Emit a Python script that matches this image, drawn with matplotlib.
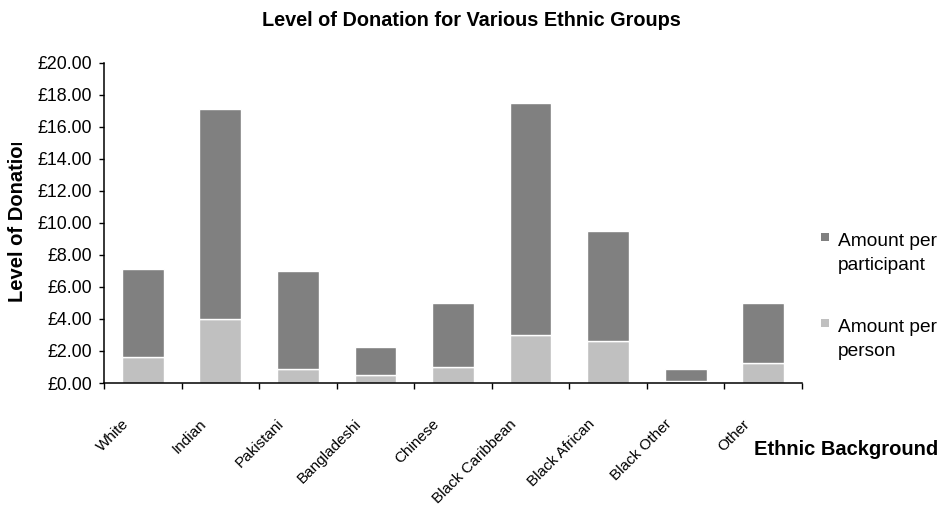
import matplotlib
matplotlib.use("Agg")
import matplotlib.pyplot as plt
from matplotlib.patches import Rectangle
from matplotlib.transforms import Bbox, TransformedBbox, ScaledTranslation
from matplotlib.ticker import FuncFormatter, MultipleLocator
import numpy as np

plt.rcParams["font.family"] = ["Liberation Sans", "DejaVu Sans"]

# Data
groups = ["White", "Indian", "Pakistani", "Bangladeshi", "Chinese",
          "Black Caribbean", "Black African", "Black Other", "Other"]
amount_per_person = [1.60, 4.00, 0.90, 0.50, 1.02, 3.02, 2.65, 0.15, 1.27]
amount_per_participant = [5.50, 13.10, 6.08, 1.73, 3.96, 14.46, 6.83, 0.70, 3.71]

title = "Level of Donation for Various Ethnic Groups"
x_title = "Ethnic Background"
y_title = "Level of Donation"
series_names = [["Amount per", "participant"], ["Amount per", "person"]]

dark = "#808080"
light = "#c0c0c0"

W, H, DPI = 943, 512, 100
fig = plt.figure(figsize=(W / DPI, H / DPI), dpi=DPI)
fig.patch.set_facecolor("white")


def px(x, y):
    """Pixel position (from top-left) to figure fraction."""
    return x / W, 1 - y / H


ax_l, ax_r, ax_t, ax_b = 104, 802, 62.7, 383
ax = fig.add_axes([ax_l / W, 1 - ax_b / H, (ax_r - ax_l) / W, (ax_b - ax_t) / H])

x = np.arange(len(groups))
bw = 0.54
ax.bar(x, amount_per_person, width=bw, color=light, edgecolor="white",
       linewidth=1.0, zorder=2)
ax.bar(x, amount_per_participant, width=bw, bottom=amount_per_person,
       color=dark, edgecolor="white", linewidth=1.0, zorder=2)

ax.set_xlim(-0.5, len(groups) - 0.5)
ax.set_ylim(0, 20)
ax.yaxis.set_major_locator(MultipleLocator(2))
ax.yaxis.set_major_formatter(FuncFormatter(lambda v, p: f"£{v:.2f}"))

for s in ["top", "right"]:
    ax.spines[s].set_visible(False)
for s in ["left", "bottom"]:
    ax.spines[s].set_linewidth(1.1)
    ax.spines[s].set_color("black")

ax.tick_params(axis="y", direction="out", length=3.6, width=1.0,
               pad=5.0, labelsize=12.8, colors="black")

# category labels at bar centres, tick marks at category boundaries
ax.set_xticks(x)
ax.set_xticks(np.arange(-0.5, len(groups), 1.0), minor=True)
ax.tick_params(axis="x", which="minor", direction="out", length=4.3, width=1.0)
ax.tick_params(axis="x", which="major", length=0, pad=28.0, labelsize=11)
ax.set_xticklabels(groups)
shift = ScaledTranslation(-16 / DPI, 0, fig.dpi_scale_trans)
for lab in ax.get_xticklabels():
    lab.set_rotation(45)
    lab.set_rotation_mode("anchor")
    lab.set_ha("right")
    lab.set_va("center")
    lab.set_transform(lab.get_transform() + shift)

# titles
fig.text(*px(471.5, 26), title, ha="center", va="baseline",
         fontsize=14.3, fontweight="bold")
fig.text(*px(754, 455), x_title, ha="left", va="baseline",
         fontsize=14.5, fontweight="bold")
yl = fig.text(*px(18, 302), y_title, ha="center", va="bottom", rotation=90,
              fontsize=14.5, fontweight="bold")
yl.set_clip_box(TransformedBbox(Bbox.from_extents(0, 0, 1, 1 - 143 / H),
                                fig.transFigure))
yl.set_clip_on(True)

# legend
legend_rows = [(dark, series_names[0], 233.3), (light, series_names[1], 319)]
for col, lines, ytop in legend_rows:
    x0, y0 = px(821, ytop + 8)
    fig.patches.append(Rectangle((x0, y0), 8 / W, 8 / H, transform=fig.transFigure,
                                 facecolor=col, edgecolor="none"))
    for i, line in enumerate(lines):
        fig.text(*px(838, ytop + 12.5 + 24.3 * i), line, ha="left",
                 va="baseline", fontsize=13.8)

fig.savefig("out.png", dpi=DPI)
